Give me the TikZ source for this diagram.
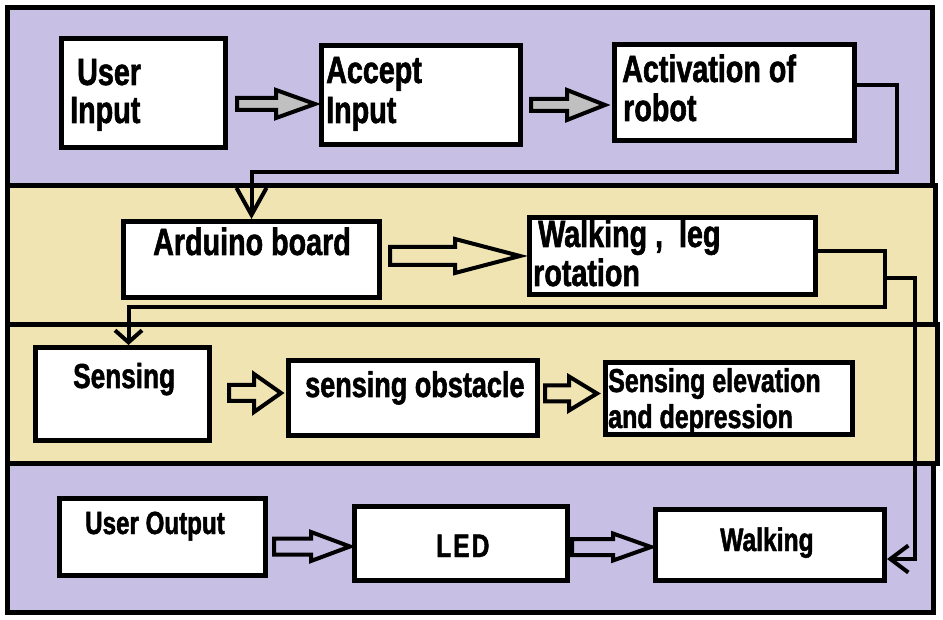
\documentclass[tikz,border=0pt]{standalone}
\usepackage{fontspec}
\setmainfont{Liberation Sans}[FakeStretch=0.755, BoldFeatures={FakeBold=1.5}]
\usetikzlibrary{arrows.meta}
\definecolor{lav}{RGB}{200,192,228}
\definecolor{beige}{RGB}{240,228,178}
\definecolor{agray}{RGB}{192,192,192}
\newcommand\myfs[1]{\fontsize{#1}{#1}\selectfont\bfseries}
\tikzset{
  panel/.style={draw=black, line width=5pt},
  box/.style={draw=black, fill=white, line width=5pt, inner sep=0pt},
  txt/.style={anchor=base west, inner sep=0pt, text=black},
  conn/.style={draw=black, line width=4pt, line join=miter},
  barrow/.style={draw=black, line width=4pt, line join=miter},
}
\newcommand\blockarrow[7]{% x0, xh, tip, yc, sh, hh, fill
  \path[barrow, fill=#7] (#1,#4-#5) -- (#2,#4-#5) -- (#2,#4-#6) -- (#3,#4) -- (#2,#4+#6) -- (#2,#4+#5) -- (#1,#4+#5) -- cycle;}
\begin{document}
\begin{tikzpicture}[x=1pt,y=-1pt]
\useasboundingbox (0,0) rectangle (943,620);
\fill[white] (0,0) rectangle (943,620);
% bands
\path[panel, fill=lav]   (7.5,7.5)   rectangle (932,185.5);
\path[panel, fill=beige] (7.5,185.5) rectangle (935.5,324.5);
\path[panel, fill=beige] (7.5,324.5) rectangle (937,463);
\path[panel, fill=lav]   (7.5,463)   rectangle (933.5,612.5);

% connector bend points
\coordinate (c1a) at (897,85);
\coordinate (c1b) at (897,172);
\coordinate (c2a) at (885,251);
\coordinate (c2b) at (885,307);
\coordinate (c3a) at (885,278);
\coordinate (c3b) at (915,278);
\coordinate (c3c) at (915,559);

% boxes
\node[box, minimum width=164pt, minimum height=109pt] (ui)  at (143.5,93) {};
\node[box, minimum width=199pt, minimum height=99pt]  (acc) at (421,95) {};
\node[box, minimum width=240pt, minimum height=96pt]  (act) at (734.5,92.5) {};
\node[box, minimum width=256pt, minimum height=76pt]  (ard) at (251.5,259.5) {};
\node[box, minimum width=286pt, minimum height=77pt]  (wlk) at (672.5,256) {};
\node[box, minimum width=174pt, minimum height=93pt]  (sen) at (122.5,394) {};
\node[box, minimum width=249pt, minimum height=75pt]  (obs) at (413,398) {};
\node[box, minimum width=247pt, minimum height=72pt]  (elv) at (729,398.5) {};
\node[box, minimum width=206pt, minimum height=77pt]  (uo)  at (162.5,537) {};
\node[box, minimum width=213pt, minimum height=74pt]  (led) at (461,543.5) {};
\node[box, minimum width=229pt, minimum height=71pt]  (wo)  at (770,545) {};

\draw[conn, -{Straight Barb[length=27pt, width=30pt]}]
  (act.east |- c1a) -- (c1a) -- (c1b) -- (ard.north |- c1b) -- (ard.north);
\draw[conn, -{Straight Barb[length=12pt, width=27pt]}]
  (wlk.east |- c2a) -- (c2a) -- (c2b) -- ([xshift=6pt]sen.north |- c2b) -- ([xshift=6pt]sen.north);
\draw[conn, -{Straight Barb[length=18pt, width=27pt]}]
  (c3a) -- (c3b) -- (c3c) -- (wo.east |- c3c);

% block arrows
\blockarrow{237}{276}{315}{104}{6}{14}{agray}
\blockarrow{531}{567}{605}{105}{6}{15}{agray}
\blockarrow{390}{455}{520}{256}{9}{17}{none}
\blockarrow{229}{254}{281}{393}{8}{19}{none}
\blockarrow{545}{569}{597}{393.5}{8}{17}{none}
\blockarrow{274}{311}{350}{546.5}{8}{14.5}{none}
\blockarrow{572}{613}{651}{547}{8}{13.5}{none}

% texts
\node[txt, font=\myfs{38}] (ui1) at (77,85)  {User};
\node[txt, font=\myfs{38}] (ui2) at (70,123) {Input};
\node[txt, font=\myfs{38}] (ac1) at (326,83) {Accept};
\node[txt, font=\myfs{38}] (ac2) at (326,123) {Input};
\node[txt, font=\myfs{38}] (at1) at (622,82) {Activation of};
\node[txt, font=\myfs{38}] (at2) at (623,121) {robot};
\node[txt, font=\myfs{38}] (ar)  at (153,255) {Arduino board};
\node[txt, font=\myfs{38}] (wk1) at (538,247) {Walking ,\ \ leg};
\node[txt, font=\myfs{38}] (wk2) at (533,286) {rotation};
\node[txt, font=\myfs{34.7}] (se)  at (73,388)  {Sensing};
\node[txt, font=\myfs{35.8}] (ob)  at (305,397) {sensing obstacle};
\node[txt, font=\myfs{33.1}] (el1) at (608,392) {Sensing elevation};
\node[txt, font=\myfs{33.1}] (el2) at (608,428) {and depression};
\node[txt, font=\myfs{32}] (uot) at (85,534) {User Output};
\node[txt, font=\myfs{32.6}] (ledt) at (436,557) {L\hspace{2pt}E\hspace{2pt}D};
\node[txt, font=\myfs{32.6}] (wot) at (720,551) {Walking};
\end{tikzpicture}
\end{document}
